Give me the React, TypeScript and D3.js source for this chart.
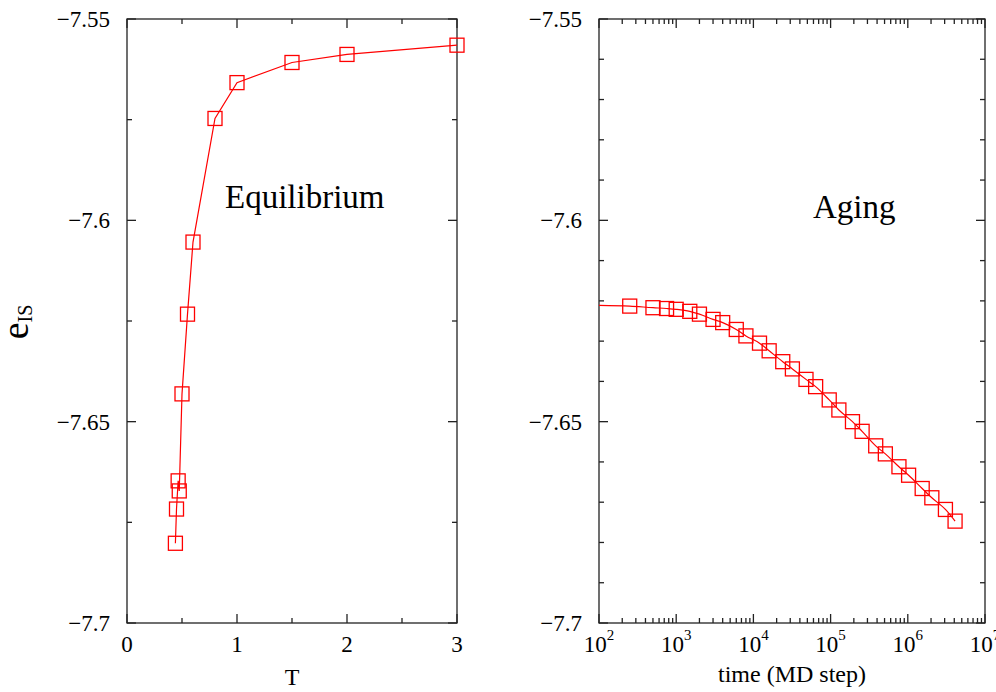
import React, { useEffect, useRef } from 'react';
import * as d3 from 'd3';

// equilibrium panel: inherent structure energy vs temperature
const eqTemps = [3, 2, 1.5, 1, 0.8, 0.6, 0.55, 0.5, 0.475, 0.465, 0.45, 0.44];
const eqEnergies = [-7.5565, -7.5588, -7.5608, -7.5658, -7.5747, -7.6054, -7.6233, -7.6431, -7.6672, -7.6647, -7.6717, -7.6802];

// aging panel: energy vs MD steps
const agingTimes = [250, 500, 750, 1000, 1500, 2000, 3000, 4000, 6000, 8000, 12000, 16000, 24000, 32000, 48000, 64000,
  96000, 128000, 192000, 256000, 384000, 512000, 768000, 1024000, 1536000, 2048000, 3072000, 4096000];
const agingEnergies = [-7.6213, -7.6217, -7.6219, -7.6221, -7.6226, -7.6233, -7.6246, -7.6254, -7.6271, -7.6287, -7.6305,
  -7.6324, -7.6351, -7.6369, -7.6395, -7.6413, -7.6446, -7.6471, -7.65, -7.6524, -7.656, -7.658, -7.6612, -7.6633,
  -7.6666, -7.6689, -7.6718, -7.6747];
// fit curve starts at the left edge of the axis
const fitStartTime = 100;
const fitStartEnergy = -7.6211;

const energyLabels = ['\u22127.55', '\u22127.6', '\u22127.65', '\u22127.7'];
const energyTicks = [-7.55, -7.6, -7.65, -7.7];
const tempTicks = [0, 1, 2, 3];
const decadeExps = [2, 3, 4, 5, 6, 7];

const FONT = '"Liberation Serif", "Times New Roman", serif';

function App() {
  const ref = useRef<SVGSVGElement>(null);

  useEffect(() => {
    document.body.style.margin = '0';
    const svg = d3.select(ref.current);
    svg.selectAll('*').remove();

    const top = 19;
    const bottom = 623;
    const y = d3.scaleLinear().domain([-7.7, -7.55]).range([bottom, top]);

    const xT = d3.scaleLinear().domain([0, 3]).range([127, 457]);
    const xLog = d3.scaleLog().domain([1e2, 1e7]).range([599, 985]);

    const axisColor = '#222';

    // draws inward ticks on both sides of a panel
    function frame(x0: number, x1: number, xs: { px: number; major: boolean }[], ys: { py: number; major: boolean }[]) {
      const g = svg.append('g').attr('stroke', axisColor).attr('stroke-width', 1.3).attr('fill', 'none');
      xs.forEach(t => {
        const len = t.major ? 9 : 5;
        g.append('line').attr('x1', t.px).attr('x2', t.px).attr('y1', bottom).attr('y2', bottom - len);
        g.append('line').attr('x1', t.px).attr('x2', t.px).attr('y1', top).attr('y2', top + len);
      });
      ys.forEach(t => {
        const len = t.major ? 9 : 5;
        g.append('line').attr('x1', x0).attr('x2', x0 + len).attr('y1', t.py).attr('y2', t.py);
        g.append('line').attr('x1', x1).attr('x2', x1 - len).attr('y1', t.py).attr('y2', t.py);
      });
      g.append('rect').attr('x', x0).attr('y', top).attr('width', x1 - x0).attr('height', bottom - top);
    }

    function yLabels(xRight: number) {
      energyTicks.forEach((v, i) => {
        svg.append('text')
          .attr('x', xRight).attr('y', y(v) + 8)
          .attr('text-anchor', 'end')
          .attr('font-family', FONT).attr('font-size', 23)
          .text(energyLabels[i]);
      });
    }

    function squares(pts: [number, number][]) {
      svg.append('g').selectAll('rect').data(pts).join('rect')
        .attr('x', d => d[0] - 7).attr('y', d => d[1] - 7)
        .attr('width', 14).attr('height', 14)
        .attr('fill', 'none').attr('stroke', '#ff0000').attr('stroke-width', 1.3);
    }

    // ---- left panel ----
    const leftXTicks = d3.range(0, 7).map(i => ({ px: xT(i * 0.5), major: i % 2 === 0 }));
    const leftYTicks = d3.range(0, 7).map(i => ({ py: y(-7.7 + i * 0.025), major: i % 2 === 0 }));
    frame(127, 457, leftXTicks, leftYTicks);
    yLabels(110);

    tempTicks.forEach(v => {
      svg.append('text').attr('x', xT(v)).attr('y', bottom + 29)
        .attr('text-anchor', 'middle').attr('font-family', FONT).attr('font-size', 23).text(String(v));
    });
    svg.append('text').attr('x', xT(1.5)).attr('y', 685)
      .attr('text-anchor', 'middle').attr('font-family', FONT).attr('font-size', 24).text('T');

    const eqPts: [number, number][] = eqTemps.map((t, i) => [xT(t), y(eqEnergies[i])]);
    svg.append('path')
      .attr('d', d3.line()(eqPts))
      .attr('fill', 'none').attr('stroke', '#ff0000').attr('stroke-width', 1.2);
    squares(eqPts);

    svg.append('text').attr('x', 225).attr('y', 208)
      .attr('font-family', FONT).attr('font-size', 33).text('Equilibrium');

    // y axis label e_IS
    const yl = svg.append('text')
      .attr('transform', 'translate(28, 322) rotate(-90)')
      .attr('text-anchor', 'middle')
      .attr('font-family', FONT);
    yl.append('tspan').attr('font-size', 38).text('e');
    yl.append('tspan').attr('font-size', 20).attr('dy', 4).text('IS');

    // ---- right panel ----
    const rightXTicks: { px: number; major: boolean }[] = [];
    decadeExps.slice(0, -1).forEach(e => {
      d3.range(1, 10).forEach(m => rightXTicks.push({ px: xLog(m * Math.pow(10, e)), major: m === 1 }));
    });
    rightXTicks.push({ px: xLog(1e7), major: true });
    const rightYTicks = d3.range(0, 16).map(i => ({ py: y(-7.7 + i * 0.01), major: i % 5 === 0 }));
    frame(599, 985, rightXTicks, rightYTicks);
    yLabels(582);

    decadeExps.forEach(e => {
      const t = svg.append('text').attr('x', xLog(Math.pow(10, e))).attr('y', bottom + 29)
        .attr('text-anchor', 'middle').attr('font-family', FONT);
      t.append('tspan').attr('font-size', 23).text('10');
      t.append('tspan').attr('font-size', 15).attr('dy', -12).text(String(e));
    });
    svg.append('text').attr('x', xLog(Math.sqrt(1e9)) ).attr('y', 682)
      .attr('text-anchor', 'middle').attr('font-family', FONT).attr('font-size', 24).text('time (MD step)');

    const fitPts: [number, number][] = [[xLog(fitStartTime), y(fitStartEnergy)]]
      .concat(agingTimes.map((t, i) => [xLog(t), y(agingEnergies[i])] as [number, number])) as [number, number][];
    svg.append('path')
      .attr('d', d3.line().curve(d3.curveMonotoneX)(fitPts))
      .attr('fill', 'none').attr('stroke', '#ff0000').attr('stroke-width', 1.2);
    squares(agingTimes.map((t, i) => [xLog(t), y(agingEnergies[i])]));

    svg.append('text').attr('x', 813).attr('y', 218)
      .attr('font-family', FONT).attr('font-size', 33).text('Aging');
  }, []);

  return <svg ref={ref} width={996} height={692} style={{ display: 'block', background: '#fff' }} />;
}

export default App;
